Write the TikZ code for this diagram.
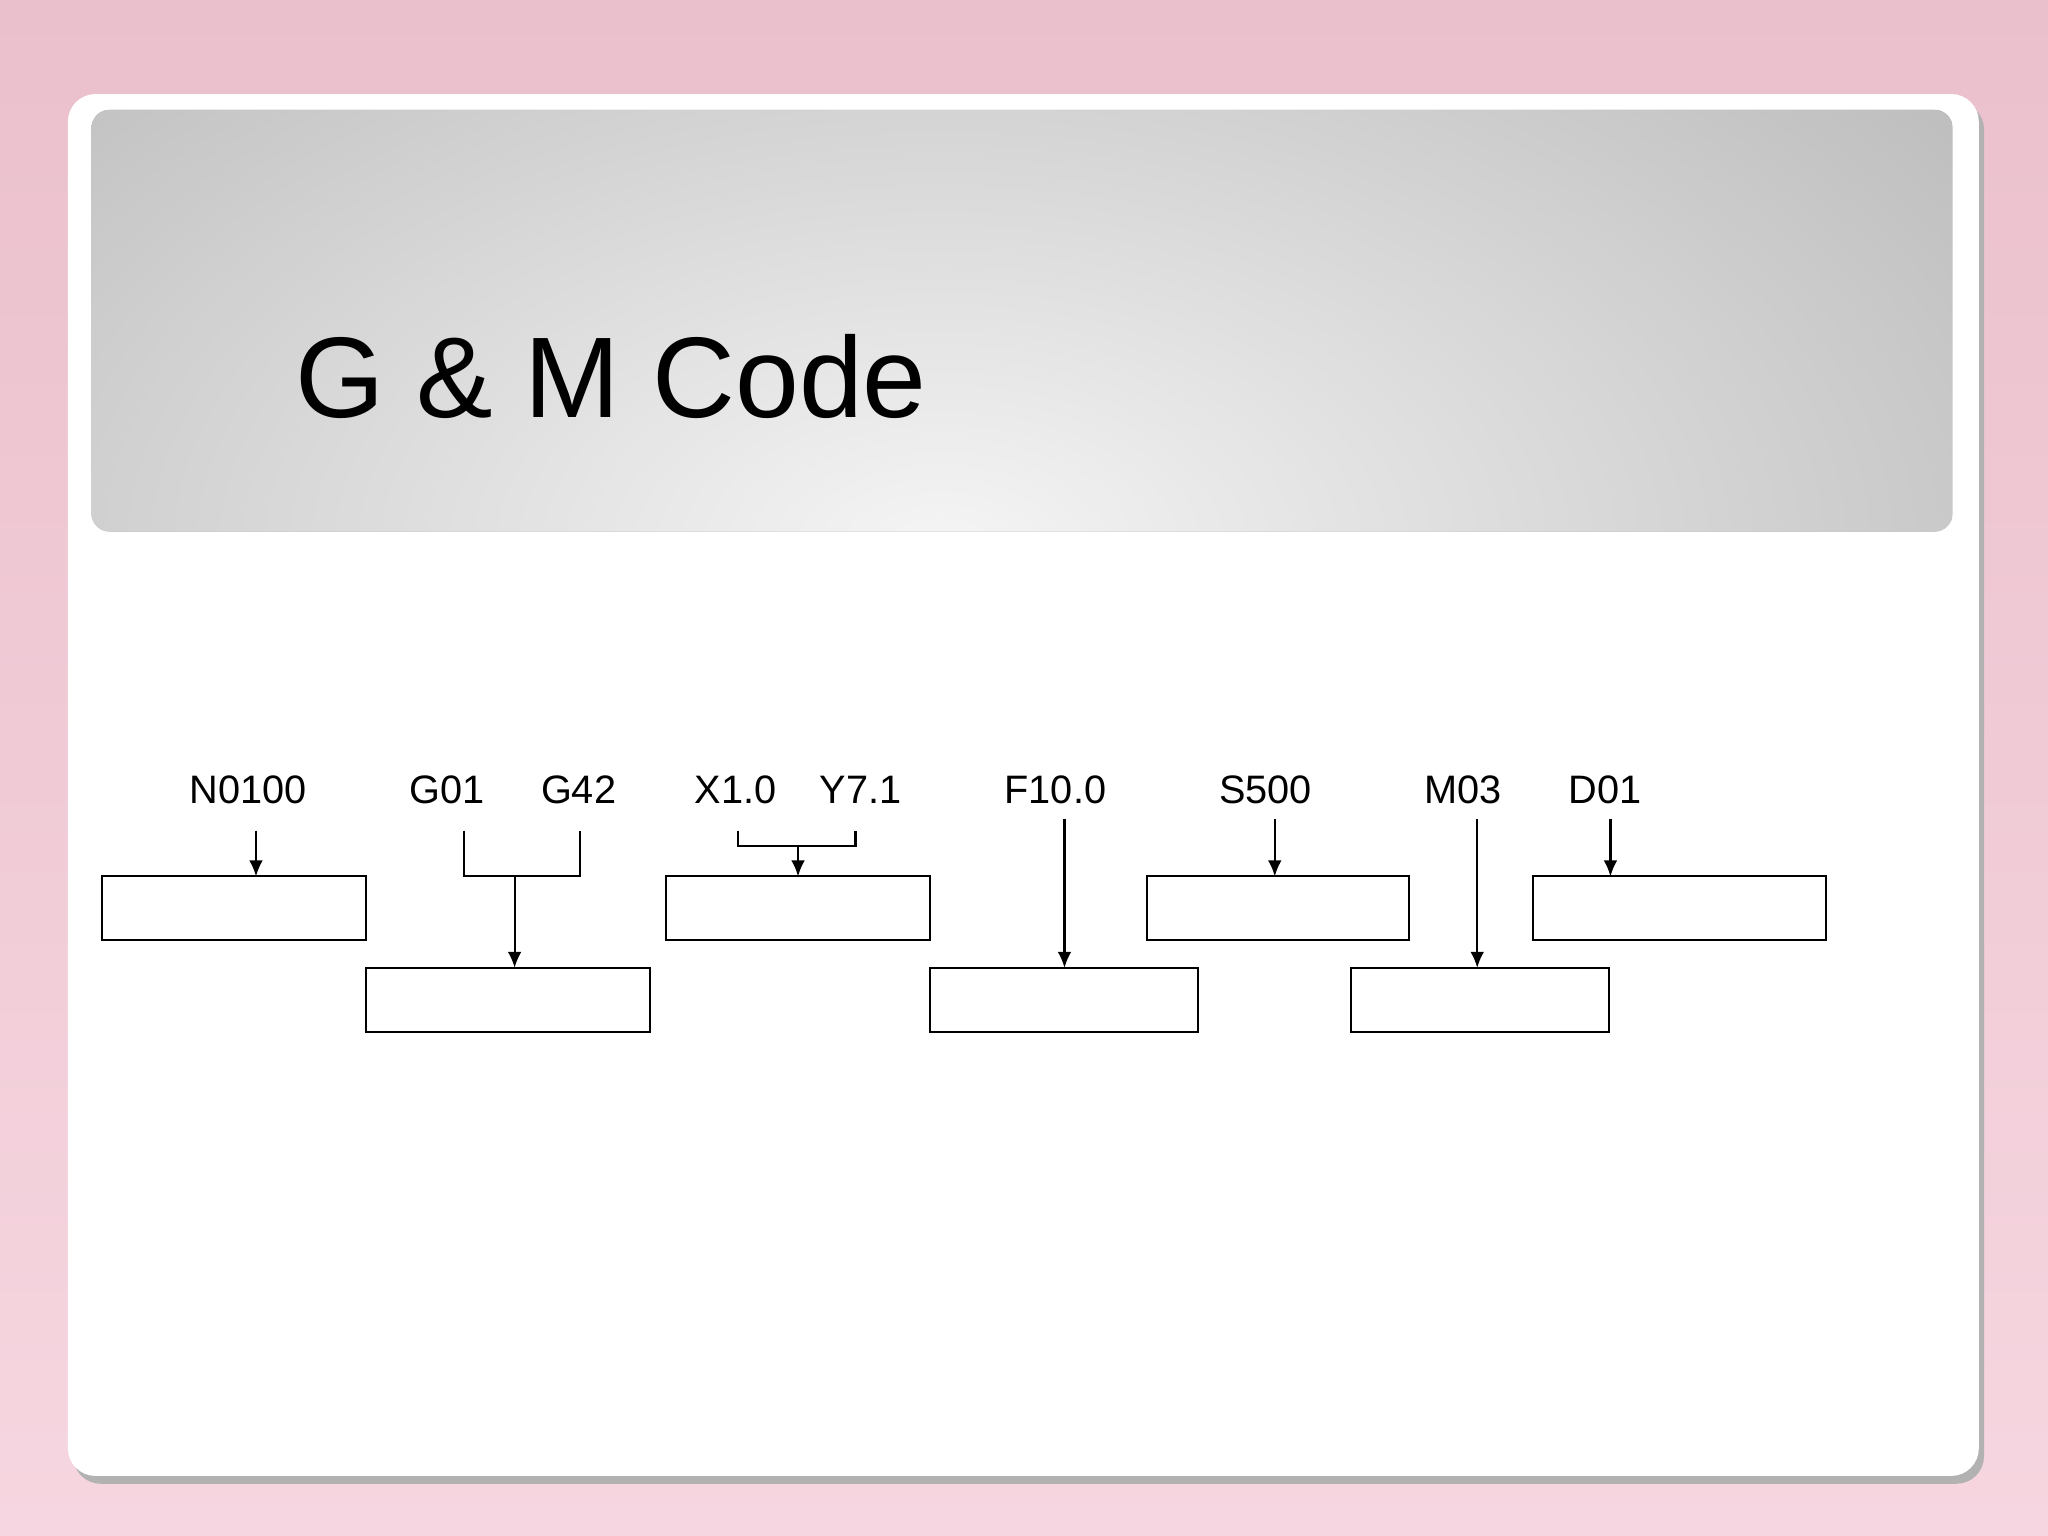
\documentclass[tikz,border=0pt]{standalone}
\usepackage{fontspec}
\setmainfont{Liberation Sans}
\usetikzlibrary{arrows.meta}
\begin{document}
\begin{tikzpicture}[x=0.02cm,y=-0.02cm,
  bx/.style={draw,line width=0.9pt},
  ln/.style={line width=0.9pt},
  ar/.style={line width=0.9pt,-{Latex[length=7pt,width=6pt]}},
  lb/.style={font=\fontsize{17.3pt}{20pt}\selectfont,anchor=base}]
\definecolor{pinkT}{RGB}{234,192,204}
\definecolor{pinkB}{RGB}{246,214,224}
\useasboundingbox (0,0) rectangle (1568,1176);
\shade[top color=pinkT,bottom color=pinkB] (0,0) rectangle (1568,1176);
\fill[gray!60,rounded corners=12] (56,78) rectangle (1519,1136);
\fill[white,rounded corners=12] (52,72) rectangle (1515,1130);
\begin{scope}
\clip[rounded corners=8] (70,84) rectangle (1495,407);
\fill[gray!68] (70,84) rectangle (1495,407);
\shade[inner color=gray!8,outer color=gray!68] (720,420) ellipse (1350 and 780);
\end{scope}
\node[anchor=west,font=\fontsize{50pt}{56pt}\selectfont] (title) at (220,288) {G \& M Code};
% labels
\node[lb] (n) at (190,615) {N0100};
\node[lb] (g1) at (342,615) {G01};
\node[lb] (g2) at (443,615) {G42};
\node[lb] (x) at (563,615) {X1.0};
\node[lb] (y) at (659,615) {Y7.1};
\node[lb] (f) at (808,615) {F10.0};
\node[lb] (s) at (969,615) {S500};
\node[lb] (m) at (1120,615) {M03};
\node[lb] (d) at (1229,615) {D01};
% boxes
\draw[bx] (78,671) rectangle (280,720);
\draw[bx] (510,671) rectangle (712,720);
\draw[bx] (878,671) rectangle (1079,720);
\draw[bx] (1174,671) rectangle (1398,720);
\draw[bx] (280,741) rectangle (498,790);
\draw[bx] (712,741) rectangle (917,790);
\draw[bx] (1034,741) rectangle (1232,790);
% connectors
\draw[ar] (196,636) -- (196,671);
\draw[ln] (355,636) -- (355,671) -- (444,671) -- (444,636);
\draw[ar] (394,671) -- (394,741);
\draw[ln] (565,636) -- (565,648) -- (655,648) -- (655,636);
\draw[ar] (611,648) -- (611,671);
\draw[ar] (815,627) -- (815,741);
\draw[ar] (976,627) -- (976,671);
\draw[ar] (1131,627) -- (1131,741);
\draw[ar] (1233,627) -- (1233,671);
\end{tikzpicture}
\end{document}
